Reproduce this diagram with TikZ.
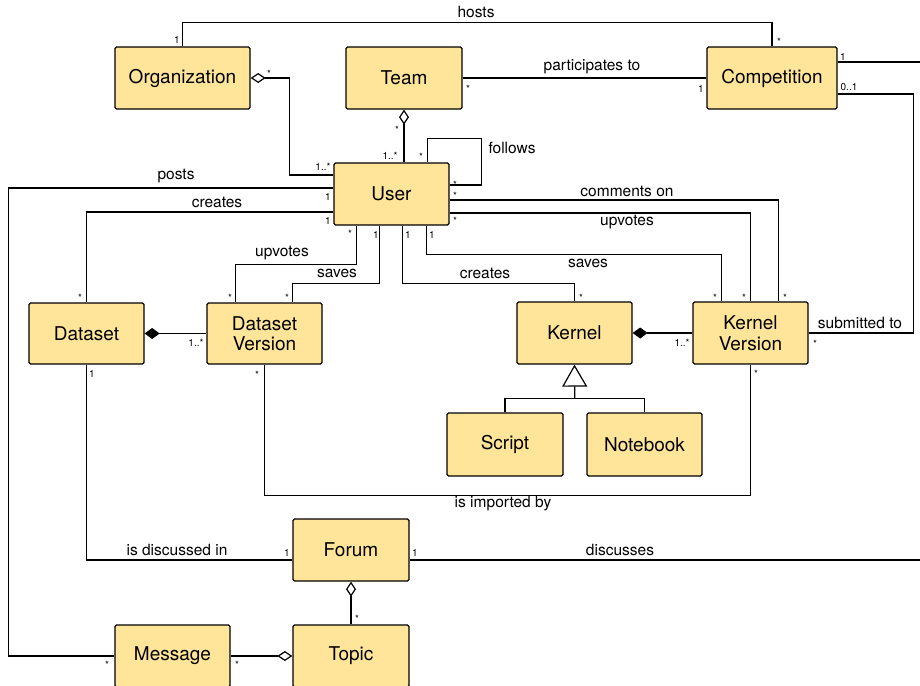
\documentclass[tikz,border=0pt]{standalone}
\usepackage{fontspec}
\setmainfont{TeX Gyre Heros}
\usetikzlibrary{arrows.meta,calc}
\definecolor{boxfill}{RGB}{255,229,153}
\begin{document}
\begin{tikzpicture}[x=1pt,y=-1pt,
  cls/.style={draw,line width=1.3pt,fill=boxfill,rounded corners=1.5pt,minimum width=115pt,minimum height=62pt,inner sep=0pt,align=center,font=\fontsize{19}{20.5}\selectfont},
  conn/.style={line width=1.2pt},
  elab/.style={font=\fontsize{15.5}{17}\selectfont,inner sep=0pt},
  mlab/.style={font=\fontsize{10}{12}\selectfont,inner sep=0pt},
  aggr/.style={conn,{Diamond[fill=white,length=15pt,width=10pt]}-},
  compo/.style={conn,{Diamond[fill=black,length=15pt,width=11pt]}-},
  genz/.style={conn,-{Triangle[fill=white,length=22pt,width=25pt]}},
]
\useasboundingbox (0,0) rectangle (920,685);
\clip (0,0) rectangle (920,685);

% classes
\node[cls,minimum width=135pt] (org) at (182.5,78) {Organization};
\node[cls,minimum width=116pt] (team) at (404,78) {Team};
\node[cls,minimum width=130pt] (compet) at (772,78) {Competition};
\node[cls] (user) at (391.5,194) {User};
\node[cls,minimum height=61pt] (dataset) at (86.5,333.5) {Dataset};
\node[cls,minimum height=61pt] (dv) at (264.5,333.5) {Dataset\\Version};
\node[cls] (kernel) at (574.5,333) {Kernel};
\node[cls] (kv) at (750.5,333) {Kernel\\Version};
\node[cls,minimum width=116pt,minimum height=63pt] (script) at (505,444.5) {Script};
\node[cls,minimum height=63pt] (notebook) at (644.5,444.5) {Notebook};
\node[cls,minimum width=116pt] (forum) at (351,550) {Forum};
\node[cls,minimum width=116pt] (topic) at (351,656) {Topic};
\node[cls] (message) at (172.5,656) {Message};

% connectors
\draw[conn] (org.north) -- ++(0,-24) -| (compet.north);
\draw[aggr] (org.east) -- ++(39,0) |- ($(user.west)+(0,-19)$);
\draw[aggr] (team.south) -- (team.south |- user.north);
\draw[conn] (team.east) -- (compet.west);
\draw[conn] ($(user.north east)+(-22,0)$) -- ++(0,-24) -- ++(54,0) |- ($(user.east)+(0,-9)$);
\draw[conn] ($(user.west)+(0,-6)$) -- ++(-325,0) |- (message.west);
\draw[conn] ($(user.west)+(0,18)$) -| (dataset.north);
\draw[conn] ($(user.south west)+(23,0)$) -- ++(0,39) -| ($(dv.north west)+(29,0)$);
\draw[conn] ($(user.south west)+(46,0)$) -- ++(0,58) -| ($(dv.north west)+(86,0)$);
\draw[conn] ($(user.south west)+(69,0)$) -- ++(0,58) -| (kernel.north);
\draw[conn] ($(user.south west)+(93,0)$) -- ++(0,29) -| ($(kv.north west)+(29,0)$);
\draw[conn] ($(user.east)+(0,19)$) -| (kv.north);
\draw[conn] ($(user.east)+(0,6)$) -| ($(kv.north west)+(86,0)$);
\draw[compo] (dataset.east) -- (dv.west);
\draw[compo] (kernel.east) -- (kv.west);
\draw[conn] (script.north) -- ++(0,-14) -| (notebook.north);
\draw[genz] ($(script.north)!0.5!(notebook.north)+(0,-14)$) -- (kernel.south);
\draw[conn] (dv.south) -- ++(0,131) -| (kv.south);
\draw[conn] ($(compet.east)+(0,16)$) -- ++(76,0) |- (kv.east);
\draw[conn] ($(compet.east)+(0,-16)$) -- ++(90,0);
\draw[conn] (dataset.south) |- ($(forum.west)+(0,10)$);
\draw[conn] ($(forum.east)+(0,10)$) -- ++(520,0);
\draw[aggr] (forum.south) -- (topic.north);
\draw[aggr] (topic.west) -- (message.east);

% association labels
\node[elab] (l1) at (476,12) {hosts};
\node[elab] (l2) at (592,67) {participates to};
\node[elab] (l3) at (512,148) {follows};
\node[elab] (l4) at (176,176) {posts};
\node[elab] (l5) at (217,202) {creates};
\node[elab] (l6) at (627,191) {comments on};
\node[elab] (l7) at (627,222) {upvotes};
\node[elab] (l8) at (282,253) {upvotes};
\node[elab] (l9) at (337,273) {saves};
\node[elab] (l10) at (485,273) {creates};
\node[elab] (l11) at (588,263) {saves};
\node[elab] (l12) at (860,323) {submitted to};
\node[elab] (l13) at (503,504) {is imported by};
\node[elab] (l14) at (177,550) {is discussed in};
\node[elab] (l15) at (620,550) {discusses};

% multiplicities
\foreach \mx/\my/\mt [count=\i] in {177/40/1, 269/74/*, 323/167/1..*, 397/130/*, 390/156/1..*,
  421/157/*, 468/89/*, 701/89/1, 779/42/*, 843/57/1, 849/87/0..1,
  455/185/*, 455/196/*, 455/221/*, 328/197/1, 328/221/1,
  350/234/*, 376/235/1, 408/235/1, 432/235/1,
  80/298/*, 230/298/*, 287/298/*, 196/343/1..*, 92/374/1, 257/375/*,
  581/298/*, 715/298/*, 744/298/*, 785/298/*, 682/343/1..*, 815/344/*, 756/374/*,
  287/553/1, 415/553/1, 357/619/*, 237/665/*, 107/665/*}
  \node[mlab] (m\i) at (\mx,\my) {\mt};
\end{tikzpicture}
\end{document}
